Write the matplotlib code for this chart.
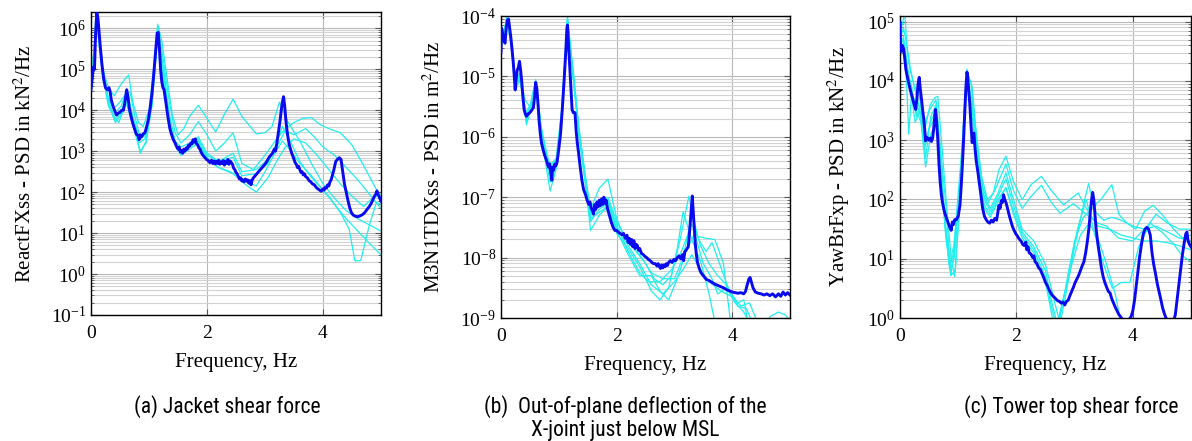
import matplotlib
matplotlib.use("Agg")
import matplotlib.pyplot as plt
import numpy as np
from matplotlib.ticker import LogLocator, NullFormatter

plt.rcParams["font.family"] = ["Liberation Serif", "DejaVu Serif"]
plt.rcParams["mathtext.fontset"] = "stix"

# PSD curves stored as (frequency in Hz, log10 of PSD) pairs.
# ---------------- (a) ReactFXss, kN^2/Hz ----------------
a_main = [
    (0.00, 4.50), (0.02, 4.75), (0.04, 5.05), (0.06, 5.00), (0.08, 5.90), (0.10, 6.38),
    (0.12, 6.25), (0.14, 5.90), (0.16, 5.55), (0.19, 5.10), (0.22, 4.75), (0.25, 4.55),
    (0.28, 4.50), (0.31, 4.55), (0.33, 4.45), (0.35, 4.25), (0.38, 4.10), (0.41, 3.98),
    (0.44, 3.88), (0.47, 3.93), (0.50, 3.95), (0.53, 4.00), (0.56, 4.00), (0.59, 4.25),
    (0.615, 4.50), (0.635, 4.35), (0.66, 4.05), (0.69, 3.85), (0.72, 3.68), (0.75, 3.55),
    (0.78, 3.42), (0.81, 3.38), (0.83, 3.28), (0.85, 3.40), (0.87, 3.35), (0.90, 3.42),
    (0.93, 3.45), (0.96, 3.60), (0.99, 3.78), (1.02, 4.05), (1.05, 4.40), (1.08, 4.85),
    (1.11, 5.35), (1.14, 5.88), (1.16, 5.90), (1.18, 5.50), (1.20, 5.00), (1.22, 4.70),
    (1.24, 4.55), (1.26, 4.50), (1.28, 4.30), (1.30, 4.10), (1.33, 3.80), (1.36, 3.55),
    (1.39, 3.40), (1.42, 3.28), (1.45, 3.20), (1.48, 3.10), (1.50, 3.05), (1.52, 3.10),
    (1.54, 2.98), (1.56, 3.02), (1.58, 2.95), (1.60, 3.05), (1.62, 3.00), (1.64, 3.08),
    (1.66, 3.05), (1.68, 3.15), (1.70, 3.12), (1.72, 3.20), (1.74, 3.18), (1.76, 3.28),
    (1.78, 3.22), (1.80, 3.30), (1.82, 3.18), (1.84, 3.15), (1.86, 3.08), (1.88, 3.05),
    (1.90, 2.97), (1.93, 2.90), (1.96, 2.85), (1.99, 2.80), (2.02, 2.77), (2.05, 2.72),
    (2.08, 2.78), (2.10, 2.70), (2.12, 2.76), (2.14, 2.69), (2.16, 2.75), (2.18, 2.70),
    (2.20, 2.78), (2.22, 2.68), (2.24, 2.74), (2.26, 2.70), (2.28, 2.77), (2.30, 2.66),
    (2.32, 2.75), (2.34, 2.70), (2.36, 2.80), (2.38, 2.68), (2.40, 2.76), (2.42, 2.72),
    (2.44, 2.68), (2.46, 2.58), (2.48, 2.55), (2.50, 2.48), (2.52, 2.45), (2.54, 2.38),
    (2.56, 2.32), (2.58, 2.35), (2.60, 2.27), (2.62, 2.30), (2.64, 2.25), (2.66, 2.32),
    (2.68, 2.27), (2.70, 2.30), (2.72, 2.22), (2.74, 2.28), (2.76, 2.18), (2.78, 2.30),
    (2.80, 2.35), (2.83, 2.40), (2.86, 2.45), (2.89, 2.50), (2.92, 2.55), (2.95, 2.60),
    (2.98, 2.65), (3.01, 2.70), (3.04, 2.77), (3.07, 2.85), (3.10, 2.90), (3.13, 2.95),
    (3.16, 3.05), (3.18, 3.00), (3.20, 3.15), (3.22, 3.35), (3.24, 3.55), (3.26, 3.75),
    (3.28, 4.00), (3.30, 4.20), (3.32, 4.33), (3.34, 4.10), (3.36, 3.75), (3.38, 3.50),
    (3.40, 3.30), (3.42, 3.15), (3.44, 3.05), (3.46, 2.95), (3.48, 2.88), (3.50, 2.80),
    (3.52, 2.72), (3.54, 2.68), (3.56, 2.60), (3.58, 2.63), (3.60, 2.55), (3.62, 2.48),
    (3.64, 2.50), (3.66, 2.42), (3.68, 2.45), (3.70, 2.38), (3.73, 2.35), (3.76, 2.28),
    (3.79, 2.25), (3.82, 2.20), (3.85, 2.18), (3.88, 2.12), (3.91, 2.08), (3.94, 2.05),
    (3.97, 2.02), (4.00, 2.08), (4.02, 2.05), (4.04, 2.12), (4.06, 2.10), (4.08, 2.18),
    (4.10, 2.15), (4.12, 2.25), (4.14, 2.30), (4.16, 2.40), (4.18, 2.50), (4.20, 2.62),
    (4.22, 2.75), (4.25, 2.80), (4.28, 2.84), (4.31, 2.80), (4.33, 2.60), (4.35, 2.40),
    (4.37, 2.20), (4.40, 2.00), (4.43, 1.80), (4.46, 1.62), (4.49, 1.50), (4.52, 1.44),
    (4.56, 1.41), (4.60, 1.40), (4.64, 1.42), (4.68, 1.45), (4.72, 1.50), (4.76, 1.58),
    (4.80, 1.65), (4.84, 1.75), (4.88, 1.88), (4.91, 1.95), (4.93, 2.03), (4.95, 1.95),
    (4.97, 1.88), (5.00, 1.78),
]
a_runs = [
    [(0, 4.6), (0.05, 5.4), (0.09, 6.45), (0.15, 5.7), (0.2, 5.0), (0.3, 4.55), (0.4, 4.35),
     (0.5, 4.6), (0.58, 4.75), (0.65, 4.86), (0.72, 4.2), (0.82, 3.7), (0.9, 3.6), (1.0, 4.0),
     (1.08, 5.0), (1.15, 6.1), (1.22, 5.7), (1.3, 4.9), (1.4, 3.9), (1.5, 3.4), (1.6, 3.55),
     (1.7, 3.85), (1.85, 4.12), (2.0, 3.8), (2.15, 3.47), (2.3, 3.9), (2.45, 4.27), (2.6, 3.85),
     (2.85, 3.42), (3.0, 3.45), (3.12, 3.6), (3.25, 4.2), (3.4, 3.7), (3.6, 3.25), (3.8, 2.7),
     (4.0, 2.2), (4.2, 1.85), (4.4, 1.55), (4.6, 1.35), (4.8, 1.2), (5.0, 1.05)],
    [(0, 4.4), (0.05, 5.3), (0.1, 6.3), (0.15, 5.8), (0.2, 5.1), (0.3, 4.2), (0.4, 4.05),
     (0.5, 4.2), (0.6, 4.4), (0.67, 4.45), (0.75, 3.9), (0.85, 3.3), (0.95, 3.4), (1.05, 4.3),
     (1.15, 6.05), (1.25, 5.2), (1.35, 4.2), (1.45, 3.45), (1.55, 3.2), (1.7, 3.4), (1.85, 3.72),
     (2.0, 3.4), (2.15, 3.0), (2.3, 3.2), (2.45, 3.45), (2.6, 2.7), (2.8, 2.55), (3.0, 2.9),
     (3.2, 3.3), (3.35, 3.55), (3.5, 3.7), (3.65, 3.8), (3.8, 3.82), (3.95, 3.65), (4.1, 3.55),
     (4.3, 3.45), (4.5, 3.15), (4.7, 2.65), (4.85, 2.25), (5.0, 1.85)],
    [(0, 4.5), (0.05, 5.2), (0.1, 6.2), (0.2, 4.9), (0.3, 4.1), (0.4, 3.85), (0.48, 3.7),
     (0.56, 4.0), (0.64, 4.3), (0.72, 3.7), (0.85, 2.95), (0.95, 3.25), (1.05, 4.2), (1.15, 5.85),
     (1.25, 4.8), (1.35, 3.8), (1.45, 3.2), (1.55, 2.95), (1.7, 3.15), (1.85, 3.35), (2.0, 2.95),
     (2.2, 2.75), (2.45, 2.95), (2.6, 2.5), (2.85, 2.55), (3.05, 2.8), (3.2, 3.1), (3.35, 3.5),
     (3.5, 3.4), (3.7, 3.55), (3.85, 3.35), (4.0, 3.1), (4.2, 2.9), (4.4, 2.6), (4.6, 2.3),
     (4.8, 1.95), (5.0, 1.6)],
    [(0, 4.55), (0.05, 5.5), (0.1, 6.35), (0.2, 5.0), (0.3, 4.3), (0.42, 3.95), (0.52, 4.1),
     (0.62, 4.5), (0.72, 3.85), (0.82, 3.4), (0.92, 3.4), (1.02, 4.0), (1.15, 5.95), (1.25, 5.0),
     (1.35, 3.9), (1.45, 3.25), (1.55, 3.1), (1.7, 3.2), (1.85, 3.3), (2.0, 2.85), (2.2, 2.6),
     (2.45, 2.45), (2.65, 2.2), (2.85, 2.0), (3.05, 2.35), (3.2, 2.75), (3.35, 3.1), (3.5, 3.3),
     (3.7, 3.2), (3.9, 2.9), (4.1, 2.55), (4.3, 2.2), (4.5, 1.9), (4.7, 1.65), (4.85, 1.85),
     (5.0, 1.95)],
    [(0, 4.45), (0.05, 5.35), (0.1, 6.3), (0.2, 4.95), (0.3, 4.25), (0.42, 3.75), (0.52, 3.95),
     (0.62, 4.4), (0.72, 3.8), (0.83, 3.2), (0.93, 3.3), (1.05, 4.1), (1.15, 5.9), (1.25, 4.9),
     (1.35, 3.85), (1.45, 3.2), (1.55, 3.0), (1.7, 3.1), (1.85, 3.25), (2.0, 2.9), (2.2, 2.75),
     (2.45, 2.85), (2.6, 2.4), (2.85, 2.45), (3.05, 2.7), (3.2, 3.2), (3.3, 3.6), (3.45, 3.2),
     (3.6, 2.75), (3.75, 2.45), (3.9, 2.2), (4.1, 1.9), (4.3, 1.5), (4.45, 1.1), (4.55, 0.32),
     (4.65, 0.33), (4.8, 1.2), (4.92, 1.75), (5.0, 1.7)],
    [(0, 4.5), (0.05, 5.25), (0.1, 6.1), (0.2, 4.85), (0.3, 4.15), (0.42, 3.7), (0.5, 3.85),
     (0.6, 4.2), (0.7, 3.75), (0.85, 3.0), (0.95, 3.2), (1.05, 4.1), (1.15, 5.8), (1.25, 4.7),
     (1.35, 3.75), (1.45, 3.15), (1.55, 2.9), (1.7, 3.05), (1.85, 3.2), (2.0, 2.8), (2.2, 2.6),
     (2.4, 2.5), (2.6, 2.3), (2.85, 2.15), (3.0, 2.5), (3.15, 2.9), (3.3, 3.25), (3.45, 3.0),
     (3.6, 2.7), (3.8, 2.4), (4.0, 2.05), (4.2, 1.7), (4.4, 1.35), (4.6, 1.05), (4.8, 0.75),
     (5.0, 0.47)],
]

# ---------------- (b) M3N1TDXss, m^2/Hz ----------------
b_main = [
    (0.00, -4.60), (0.01, -4.20), (0.03, -4.30), (0.05, -4.40), (0.07, -4.45), (0.09, -4.20),
    (0.11, -4.07), (0.13, -4.05), (0.15, -4.20), (0.17, -4.35), (0.19, -4.55), (0.21, -4.75),
    (0.23, -5.00), (0.245, -5.22), (0.26, -5.05), (0.28, -4.90), (0.30, -4.85), (0.32, -4.75),
    (0.34, -4.90), (0.36, -5.10), (0.38, -5.35), (0.40, -5.55), (0.42, -5.62), (0.44, -5.66),
    (0.47, -5.62), (0.50, -5.60), (0.53, -5.56), (0.56, -5.52), (0.58, -5.35), (0.60, -5.10),
    (0.62, -5.20), (0.64, -5.45), (0.66, -5.75), (0.68, -5.95), (0.70, -6.10), (0.73, -6.22),
    (0.76, -6.32), (0.79, -6.40), (0.82, -6.50), (0.84, -6.45), (0.86, -6.60), (0.88, -6.72),
    (0.89, -6.50), (0.91, -6.55), (0.93, -6.45), (0.95, -6.48), (0.97, -6.42), (1.00, -6.20),
    (1.03, -5.95), (1.06, -5.55), (1.09, -5.10), (1.12, -4.60), (1.14, -4.20), (1.15, -4.15),
    (1.17, -4.50), (1.19, -4.85), (1.21, -5.20), (1.23, -5.55), (1.25, -5.60), (1.28, -5.60),
    (1.30, -5.90), (1.32, -6.10), (1.34, -6.25), (1.37, -6.50), (1.40, -6.72), (1.43, -6.88),
    (1.46, -6.95), (1.49, -7.05), (1.52, -7.12), (1.54, -7.08), (1.56, -7.18), (1.58, -7.22),
    (1.60, -7.28), (1.62, -7.12), (1.64, -7.20), (1.66, -7.08), (1.68, -7.16), (1.70, -7.05),
    (1.72, -7.14), (1.74, -7.03), (1.76, -7.12), (1.78, -7.00), (1.80, -7.10), (1.82, -7.05),
    (1.84, -7.18), (1.86, -7.25), (1.88, -7.32), (1.91, -7.42), (1.94, -7.50), (1.97, -7.55),
    (2.00, -7.55), (2.03, -7.58), (2.06, -7.60), (2.09, -7.62), (2.12, -7.60), (2.15, -7.68),
    (2.18, -7.63), (2.20, -7.75), (2.22, -7.68), (2.24, -7.78), (2.26, -7.70), (2.28, -7.82),
    (2.30, -7.72), (2.32, -7.85), (2.34, -7.78), (2.36, -7.80), (2.38, -7.88), (2.40, -7.85),
    (2.43, -7.93), (2.46, -7.95), (2.49, -7.98), (2.52, -8.00), (2.55, -8.03), (2.58, -8.05),
    (2.61, -8.08), (2.64, -8.10), (2.67, -8.10), (2.70, -8.14), (2.72, -8.10), (2.74, -8.15),
    (2.76, -8.18), (2.78, -8.12), (2.80, -8.17), (2.82, -8.12), (2.84, -8.15), (2.86, -8.10),
    (2.88, -8.13), (2.90, -8.08), (2.93, -8.05), (2.96, -8.08), (2.99, -8.03), (3.02, -8.05),
    (3.05, -8.00), (3.08, -7.97), (3.11, -8.02), (3.14, -7.95), (3.16, -8.05), (3.18, -7.90),
    (3.20, -7.88), (3.22, -7.85), (3.24, -7.82), (3.26, -7.60), (3.28, -7.35), (3.30, -7.10),
    (3.31, -6.98), (3.32, -7.15), (3.34, -7.45), (3.36, -7.75), (3.38, -7.95), (3.40, -8.08),
    (3.43, -8.18), (3.46, -8.25), (3.50, -8.30), (3.55, -8.36), (3.60, -8.38), (3.65, -8.41),
    (3.70, -8.44), (3.75, -8.46), (3.80, -8.48), (3.85, -8.50), (3.90, -8.53), (3.95, -8.55),
    (4.00, -8.57), (4.05, -8.58), (4.10, -8.59), (4.15, -8.58), (4.20, -8.60), (4.23, -8.56),
    (4.26, -8.45), (4.29, -8.35), (4.31, -8.33), (4.33, -8.40), (4.36, -8.50), (4.40, -8.57),
    (4.45, -8.59), (4.50, -8.60), (4.55, -8.62), (4.60, -8.60), (4.65, -8.63), (4.70, -8.60),
    (4.75, -8.65), (4.80, -8.60), (4.84, -8.64), (4.88, -8.57), (4.92, -8.62), (4.96, -8.58),
    (5.00, -8.62),
]
b_runs = [
    [(0, -4.5), (0.05, -4.3), (0.11, -3.97), (0.18, -4.4), (0.25, -5.15), (0.32, -5.0),
     (0.42, -5.4), (0.5, -5.5), (0.6, -5.05), (0.68, -5.8), (0.78, -6.35), (0.87, -6.45),
     (0.96, -6.35), (1.05, -5.6), (1.15, -4.0), (1.25, -5.0), (1.35, -5.9), (1.45, -6.6),
     (1.55, -7.2), (1.7, -6.85), (1.85, -6.7), (2.0, -7.35), (2.15, -7.7), (2.3, -7.85),
     (2.5, -8.1), (2.65, -8.35), (2.8, -8.45), (2.95, -8.3), (3.1, -7.7), (3.25, -6.98),
     (3.4, -7.65), (3.55, -7.68), (3.7, -7.7), (3.85, -8.1), (3.95, -8.9), (4.0, -9.3)],
    [(0, -4.4), (0.05, -4.35), (0.1, -4.0), (0.18, -4.5), (0.25, -5.2), (0.33, -5.05),
     (0.44, -5.75), (0.52, -5.5), (0.6, -5.15), (0.7, -5.95), (0.85, -6.75), (0.95, -6.5),
     (1.05, -5.7), (1.15, -4.05), (1.25, -4.95), (1.35, -6.0), (1.45, -6.7), (1.55, -7.55),
     (1.7, -7.3), (1.85, -7.15), (2.0, -7.6), (2.2, -7.85), (2.4, -8.15), (2.6, -8.55),
     (2.75, -8.7), (2.9, -8.5), (3.05, -7.85), (3.15, -7.24), (3.3, -7.7), (3.45, -8.05),
     (3.6, -8.6), (3.75, -9.3)],
    [(0, -4.45), (0.05, -4.25), (0.11, -4.02), (0.18, -4.45), (0.25, -5.1), (0.32, -4.95),
     (0.43, -5.6), (0.52, -5.45), (0.6, -5.1), (0.7, -5.9), (0.85, -6.5), (0.95, -6.4),
     (1.05, -5.55), (1.15, -4.1), (1.25, -5.0), (1.35, -5.95), (1.45, -6.65), (1.55, -7.3),
     (1.7, -7.15), (1.85, -7.05), (2.0, -7.45), (2.2, -7.9), (2.4, -8.25), (2.55, -8.4),
     (2.75, -8.4), (2.95, -8.2), (3.1, -7.95), (3.3, -7.45), (3.45, -7.75), (3.55, -7.9),
     (3.65, -7.75), (3.8, -8.15), (3.95, -8.55), (4.1, -8.75), (4.2, -8.7), (4.3, -9.2)],
    [(0, -4.5), (0.1, -4.05), (0.2, -4.6), (0.25, -5.25), (0.33, -5.0), (0.44, -5.8),
     (0.52, -5.55), (0.6, -5.2), (0.7, -6.0), (0.85, -6.9), (0.95, -6.55), (1.05, -5.65),
     (1.15, -4.1), (1.25, -4.9), (1.35, -5.85), (1.45, -6.6), (1.55, -7.35), (1.7, -7.25),
     (1.85, -7.15), (2.0, -7.55), (2.2, -7.95), (2.4, -8.3), (2.6, -8.3), (2.75, -8.55),
     (2.9, -8.7), (3.05, -8.35), (3.2, -7.9), (3.35, -7.6), (3.5, -8.1), (3.65, -8.35),
     (3.75, -8.6), (3.9, -8.5), (4.05, -8.75), (4.2, -8.9), (4.35, -9.2)],
    [(0, -4.55), (0.1, -4.1), (0.2, -4.5), (0.25, -5.2), (0.33, -5.05), (0.44, -5.7),
     (0.52, -5.5), (0.6, -5.1), (0.7, -5.85), (0.85, -6.6), (0.95, -6.45), (1.05, -5.6),
     (1.15, -4.05), (1.25, -5.05), (1.35, -5.95), (1.45, -6.7), (1.55, -7.4), (1.7, -7.2),
     (1.85, -7.1), (2.0, -7.5), (2.2, -7.8), (2.4, -8.1), (2.6, -8.45), (2.8, -8.6),
     (3.0, -8.4), (3.15, -8.2), (3.3, -7.95), (3.45, -8.2), (3.6, -8.4), (3.8, -8.55),
     (4.0, -8.65), (4.15, -8.8), (4.3, -8.75), (4.45, -9.1), (4.55, -9.2), (4.65, -8.98),
     (4.8, -8.9), (4.92, -8.95), (5.0, -9.05)],
    [(0, -4.4), (0.1, -4.1), (0.2, -4.55), (0.25, -5.2), (0.32, -5.0), (0.44, -5.65),
     (0.52, -5.45), (0.6, -5.15), (0.7, -5.9), (0.85, -6.6), (0.95, -6.45), (1.05, -5.6),
     (1.15, -4.1), (1.25, -5.0), (1.35, -5.9), (1.45, -6.6), (1.55, -7.25), (1.7, -7.1),
     (1.85, -7.0), (2.0, -7.4), (2.2, -7.75), (2.4, -7.95), (2.6, -8.25), (2.8, -8.35),
     (3.0, -8.35), (3.15, -8.0), (3.3, -7.3), (3.45, -7.8), (3.6, -8.1), (3.75, -8.3),
     (3.9, -8.45), (4.1, -8.8), (4.25, -8.85), (4.4, -9.2)],
]

# ---------------- (c) YawBrFxp, kN^2/Hz ----------------
c_main = [
    (0.00, 4.99), (0.01, 4.60), (0.02, 4.50), (0.04, 4.60), (0.06, 4.55), (0.08, 4.40),
    (0.10, 4.20), (0.13, 4.05), (0.16, 3.92), (0.19, 3.80), (0.22, 3.69), (0.25, 3.58),
    (0.27, 3.52), (0.29, 3.70), (0.31, 3.95), (0.33, 4.06), (0.35, 3.85), (0.37, 3.69),
    (0.39, 3.50), (0.41, 3.35), (0.43, 3.10), (0.44, 2.99), (0.46, 3.05), (0.48, 3.03),
    (0.50, 3.00), (0.52, 3.04), (0.54, 2.98), (0.56, 3.03), (0.58, 3.20), (0.60, 3.45),
    (0.61, 3.52), (0.63, 3.30), (0.65, 3.00), (0.67, 2.60), (0.69, 2.30), (0.71, 2.08),
    (0.73, 1.95), (0.75, 1.85), (0.77, 1.77), (0.80, 1.68), (0.83, 1.60), (0.86, 1.52),
    (0.88, 1.48), (0.90, 1.62), (0.92, 1.58), (0.94, 1.66), (0.97, 1.66), (1.00, 1.72),
    (1.03, 1.90), (1.05, 2.20), (1.07, 2.55), (1.09, 2.95), (1.11, 3.40), (1.13, 3.85),
    (1.15, 4.15), (1.16, 4.10), (1.18, 3.85), (1.20, 3.60), (1.22, 3.25), (1.24, 2.96),
    (1.26, 3.10), (1.27, 3.12), (1.29, 2.85), (1.31, 2.65), (1.34, 2.45), (1.37, 2.22),
    (1.40, 2.00), (1.42, 1.85), (1.45, 1.72), (1.48, 1.66), (1.51, 1.62), (1.54, 1.60),
    (1.57, 1.65), (1.60, 1.62), (1.63, 1.68), (1.66, 1.65), (1.68, 1.78), (1.70, 1.90),
    (1.72, 1.85), (1.74, 1.98), (1.76, 1.95), (1.78, 2.08), (1.80, 2.00), (1.82, 1.95),
    (1.84, 1.88), (1.86, 1.80), (1.88, 1.72), (1.90, 1.65), (1.93, 1.55), (1.96, 1.48),
    (1.99, 1.42), (2.02, 1.38), (2.05, 1.33), (2.08, 1.30), (2.11, 1.24), (2.14, 1.22),
    (2.16, 1.28), (2.18, 1.15), (2.20, 1.20), (2.22, 1.10), (2.25, 1.08), (2.28, 1.02),
    (2.30, 1.05), (2.32, 0.95), (2.35, 0.92), (2.38, 0.85), (2.41, 0.82), (2.44, 0.75),
    (2.47, 0.68), (2.50, 0.60), (2.53, 0.55), (2.56, 0.48), (2.59, 0.42), (2.62, 0.38),
    (2.65, 0.35), (2.68, 0.32), (2.71, 0.29), (2.74, 0.28), (2.77, 0.25), (2.80, 0.27),
    (2.83, 0.22), (2.86, 0.28), (2.89, 0.30), (2.92, 0.38), (2.95, 0.45), (2.98, 0.52),
    (3.01, 0.60), (3.04, 0.66), (3.07, 0.72), (3.10, 0.80), (3.13, 0.88), (3.16, 0.95),
    (3.19, 1.10), (3.22, 1.30), (3.25, 1.55), (3.27, 1.80), (3.29, 1.98), (3.31, 2.12),
    (3.33, 2.00), (3.35, 1.75), (3.37, 1.50), (3.40, 1.25), (3.43, 1.05), (3.46, 0.85),
    (3.49, 0.70), (3.52, 0.60), (3.55, 0.52), (3.58, 0.45), (3.61, 0.42), (3.64, 0.32),
    (3.67, 0.25), (3.70, 0.18), (3.73, 0.12), (3.76, 0.06), (3.79, 0.02), (3.82, -0.02),
    (3.86, -0.04), (3.90, -0.03), (3.94, -0.02), (3.97, 0.02), (4.00, 0.12), (4.03, 0.30),
    (4.06, 0.55), (4.09, 0.80), (4.12, 1.05), (4.15, 1.25), (4.18, 1.42), (4.21, 1.50),
    (4.24, 1.53), (4.27, 1.50), (4.30, 1.40), (4.33, 1.10), (4.36, 0.90), (4.39, 0.75),
    (4.42, 0.58), (4.45, 0.45), (4.48, 0.32), (4.51, 0.18), (4.54, 0.08), (4.57, 0.00),
    (4.61, -0.05), (4.65, -0.05), (4.70, -0.04), (4.73, 0.05), (4.76, 0.30), (4.79, 0.55),
    (4.82, 0.80), (4.85, 1.05), (4.88, 1.25), (4.91, 1.42), (4.93, 1.45), (4.95, 1.30),
    (4.97, 1.25), (5.00, 1.20),
]
c_runs = [
    [(0, 4.8), (0.05, 5.0), (0.08, 5.15), (0.12, 4.6), (0.18, 4.2), (0.25, 3.9), (0.32, 3.8),
     (0.43, 3.2), (0.52, 3.6), (0.6, 3.72), (0.65, 3.74), (0.72, 2.9), (0.8, 1.9), (0.88, 1.0),
     (0.94, 0.7), (1.02, 1.8), (1.1, 3.5), (1.15, 4.2), (1.22, 3.95), (1.3, 3.2), (1.4, 2.4),
     (1.5, 2.0), (1.6, 2.1), (1.7, 2.5), (1.82, 2.73), (1.95, 2.3), (2.1, 2.0), (2.25, 2.25),
     (2.43, 2.39), (2.6, 2.15), (2.81, 1.91), (3.06, 2.11), (3.23, 1.8), (3.4, 1.55),
     (3.6, 1.5), (3.8, 1.4), (4.0, 1.35), (4.2, 1.3), (4.4, 1.3), (4.6, 1.27), (4.8, 1.22),
     (5.0, 1.15)],
    [(0, 4.7), (0.06, 4.9), (0.1, 4.7), (0.15, 4.3), (0.22, 4.0), (0.3, 3.7), (0.4, 3.2),
     (0.5, 3.5), (0.62, 3.68), (0.7, 2.8), (0.8, 1.8), (0.87, 0.72), (0.95, 1.2), (1.05, 2.6),
     (1.15, 4.15), (1.24, 3.9), (1.32, 3.0), (1.42, 2.2), (1.52, 1.95), (1.65, 2.2), (1.82, 2.6),
     (1.95, 2.15), (2.1, 1.85), (2.25, 2.05), (2.43, 2.24), (2.6, 1.95), (2.75, 1.77),
     (2.98, 1.93), (3.2, 1.75), (3.4, 1.6), (3.55, 1.55), (3.75, 1.35), (4.0, 1.3), (4.25, 1.55),
     (4.4, 1.75), (4.6, 1.6), (4.8, 1.5), (5.0, 1.5)],
    [(0, 4.6), (0.05, 4.7), (0.1, 4.4), (0.15, 4.1), (0.2, 3.9), (0.28, 3.4), (0.35, 3.6),
     (0.43, 2.9), (0.52, 3.3), (0.62, 3.5), (0.7, 2.6), (0.78, 1.5), (0.85, 0.85), (0.92, 1.1),
     (1.05, 2.5), (1.15, 4.1), (1.25, 3.6), (1.35, 2.7), (1.45, 2.05), (1.55, 1.85), (1.68, 2.1),
     (1.82, 2.45), (1.95, 2.0), (2.1, 1.5), (2.3, 1.3), (2.5, 0.9), (2.65, 0.3), (2.75, -0.1),
     (2.85, 0.4), (3.0, 1.2), (3.15, 1.9), (3.24, 2.27), (3.35, 1.8), (3.5, 1.65), (3.64, 1.7),
     (3.8, 1.65), (4.0, 1.55), (4.2, 1.5), (4.4, 1.55), (4.6, 1.45), (4.8, 1.35), (5.0, 1.3)],
    [(0, 4.5), (0.05, 4.6), (0.1, 4.3), (0.15, 3.1), (0.2, 3.8), (0.28, 3.6), (0.36, 3.4),
     (0.44, 2.7), (0.53, 3.4), (0.62, 3.6), (0.7, 2.7), (0.78, 1.6), (0.86, 0.95), (0.93, 1.25),
     (1.05, 2.7), (1.15, 4.05), (1.25, 3.5), (1.35, 2.6), (1.45, 2.0), (1.55, 1.8), (1.68, 2.05),
     (1.82, 2.35), (1.95, 1.9), (2.1, 1.45), (2.3, 1.2), (2.5, 0.8), (2.6, 0.3), (2.7, -0.1),
     (2.85, 0.5), (3.0, 1.3), (3.15, 1.7), (3.3, 1.85), (3.45, 2.0), (3.64, 2.25), (3.76, 1.75),
     (3.9, 1.6), (4.05, 1.5), (4.2, 1.8), (4.35, 1.9), (4.5, 1.75), (4.7, 1.5), (4.85, 1.35),
     (5.0, 1.4)],
    [(0, 4.4), (0.05, 4.55), (0.1, 4.2), (0.18, 3.9), (0.26, 3.3), (0.34, 3.5), (0.42, 2.9),
     (0.5, 3.2), (0.62, 3.4), (0.7, 2.5), (0.78, 1.45), (0.86, 0.8), (0.93, 1.0), (1.05, 2.4),
     (1.15, 4.0), (1.25, 3.4), (1.35, 2.5), (1.45, 1.9), (1.55, 1.75), (1.68, 2.0), (1.82, 2.2),
     (1.95, 1.8), (2.1, 1.4), (2.3, 1.15), (2.5, 0.7), (2.6, 0.2), (2.7, -0.2), (2.8, 0.3),
     (2.95, 0.9), (3.1, 1.4), (3.25, 1.6), (3.4, 1.35), (3.55, 0.9), (3.7, 0.4), (3.8, -0.1),
     (3.9, -0.3)],
    [(0, 4.5), (0.06, 4.75), (0.12, 4.3), (0.2, 3.7), (0.28, 3.5), (0.36, 3.3), (0.44, 2.55),
     (0.53, 3.1), (0.62, 3.3), (0.7, 2.4), (0.8, 1.3), (0.88, 0.72), (0.95, 0.8), (1.05, 2.3),
     (1.15, 4.15), (1.25, 3.3), (1.35, 2.4), (1.45, 1.85), (1.55, 1.7), (1.68, 1.95), (1.82, 2.2),
     (1.95, 1.75), (2.1, 1.35), (2.3, 1.1), (2.5, 0.6), (2.6, 0.1), (2.65, -0.2), (2.75, 0.0),
     (2.9, 0.8), (3.05, 1.5), (3.2, 2.0), (3.35, 1.4), (3.5, 0.9), (3.65, 0.5), (3.8, 0.6),
     (3.95, 0.6), (4.1, 1.2), (4.3, 1.6), (4.5, 1.45), (4.7, 1.25), (4.85, 1.05), (5.0, 0.95)],
]

y_labels = [
    r"ReactFXss - PSD in kN$^2$/Hz",
    r"M3N1TDXss - PSD in m$^2$/Hz",
    r"YawBrFxp - PSD in kN$^2$/Hz",
]
y_limits = [(1e-1, 2.5e6), (1e-9, 1e-4), (1e0, 1.25e5)]
captions = [
    "(a) Jacket shear force",
    "(b)  Out-of-plane deflection of the\nX-joint just below MSL",
    "(c) Tower top shear force",
]
x_label = "Frequency, Hz"

BLUE = "#0a0af0"
CYAN = "#22eeee"
W, H = 1192, 441
CAPTION_FONT = ["Roboto Condensed", "Open Sans Condensed", "Liberation Sans Narrow",
                "DejaVu Sans"]

fig = plt.figure(figsize=(W / 100, H / 100), dpi=100)
boxes = [(91, 381, 12, 315), (501, 790, 16, 318), (900, 1191, 16, 318)]
cap_x = [227, 625, 1071]

panels = [(a_main, a_runs), (b_main, b_runs), (c_main, c_runs)]
for i, ((main, runs), (l, r, t, b)) in enumerate(zip(panels, boxes)):
    ax = fig.add_axes([l / W, 1 - b / H, (r - l) / W, (b - t) / H])
    ax.set_yscale("log")
    for run in runs:
        f, v = zip(*run)
        ax.plot(f, 10.0 ** np.array(v), color=CYAN, lw=0.9, zorder=2)
    f, v = zip(*main)
    ax.plot(f, 10.0 ** np.array(v), color=BLUE, lw=2.1, zorder=3)

    ax.set_xlim(0, 5)
    ax.set_ylim(*y_limits[i])
    ax.set_xticks([0, 2, 4])
    ax.yaxis.set_major_locator(LogLocator(base=10, numticks=20))
    ax.yaxis.set_minor_locator(LogLocator(base=10, subs=np.arange(2, 10), numticks=20))
    ax.yaxis.set_minor_formatter(NullFormatter())
    ax.grid(True, which="major", color="#b8b8b8", lw=0.8, zorder=0)
    ax.grid(True, which="minor", axis="y", color="#d2d2d2", lw=0.8, zorder=0)
    ax.set_axisbelow(True)
    ax.tick_params(which="both", direction="in", top=True, right=True,
                   labelsize=14, color="#555555")
    ax.tick_params(which="major", length=4)
    ax.tick_params(which="minor", length=2.5)
    ax.tick_params(axis="x", pad=7)
    for s in ax.spines.values():
        s.set_linewidth(1.0)
    ax.set_xlabel(x_label, fontsize=15, labelpad=8)
    ax.set_ylabel(y_labels[i], fontsize=15, labelpad=11)

    fig.text(cap_x[i] / W, 1 - 395 / H, captions[i], ha="center", va="top",
             fontsize=15.5, linespacing=1.15, family=CAPTION_FONT,
             fontstretch="condensed")

fig.savefig("out.png", dpi=100)
